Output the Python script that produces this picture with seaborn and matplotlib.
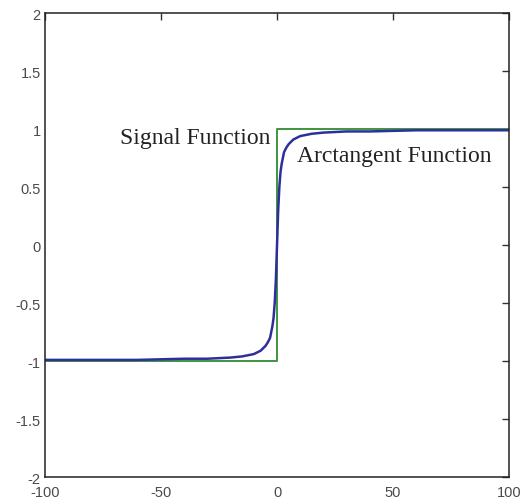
import numpy as np
import pandas as pd
import seaborn as sns
import matplotlib.pyplot as plt

# sign function (step at zero)
sign_x = [-100, 0, 0, 100]
sign_y = [-1, -1, 1, 1]

# arctangent curve, values
atan_x = [-100, -80, -60, -40, -30, -20, -15, -10, -7, -5, -4, -3, -2, -1.5, -1,
          -0.5, 0, 0.5, 1, 1.5, 2, 3, 4, 5, 7, 10, 15, 20, 30, 40, 60, 80, 100]
atan_y = [-0.99, -0.99, -0.99, -0.98, -0.98, -0.97, -0.96, -0.94, -0.91, -0.87, -0.84,
          -0.80, -0.70, -0.63, -0.50, -0.30, 0.0, 0.30, 0.50, 0.63, 0.70, 0.80, 0.84,
          0.87, 0.91, 0.94, 0.96, 0.97, 0.98, 0.98, 0.99, 0.99, 0.99]

xticks = [-100, -50, 0, 50, 100]
yticks = [-2, -1.5, -1, -0.5, 0, 0.5, 1, 1.5, 2]
ytick_labels = ["-2", "-1.5", "-1", "-0.5", "0", "0.5", "1", "1.5", "2"]

sns.set_style("white")
plt.rcParams["font.family"] = ["Liberation Sans", "DejaVu Sans"]

fig = plt.figure(figsize=(5.22, 5.02), dpi=100)
ax = fig.add_axes([0.0862, 0.0478, 0.889, 0.924])

sign_df = pd.DataFrame({"x": sign_x, "y": sign_y})
atan_df = pd.DataFrame({"x": atan_x, "y": atan_y})

sns.lineplot(data=sign_df, x="x", y="y", sort=False, estimator=None,
             color="#3f9440", linewidth=1.4, ax=ax)
sns.lineplot(data=atan_df, x="x", y="y", sort=False, estimator=None,
             color="#2e2f9c", linewidth=1.8, ax=ax)

ax.text(-67.7, 0.93, "Signal Function", family=["Liberation Serif", "DejaVu Serif"],
        fontsize=17, va="center", ha="left", color="#222222")
ax.text(8.6, 0.77, "Arctangent Function", family=["Liberation Serif", "DejaVu Serif"],
        fontsize=17, va="center", ha="left", color="#222222")

ax.set_xlim(-100, 100)
ax.set_ylim(-2, 2)
ax.set_xticks(xticks)
ax.set_xticklabels([str(t) for t in xticks])
ax.set_yticks(yticks)
ax.set_yticklabels(ytick_labels)
ax.set_xlabel("")
ax.set_ylabel("")

ax.tick_params(direction="in", length=5, width=1, colors="#333333",
               labelsize=10.5, top=True, right=True, labelcolor="#4a4a4a")
ax.tick_params(axis="x", pad=6)
ax.tick_params(axis="y", pad=3)
for s in ax.spines.values():
    s.set_color("#222222")
    s.set_linewidth(1.1)

fig.savefig("out.png", dpi=100)
